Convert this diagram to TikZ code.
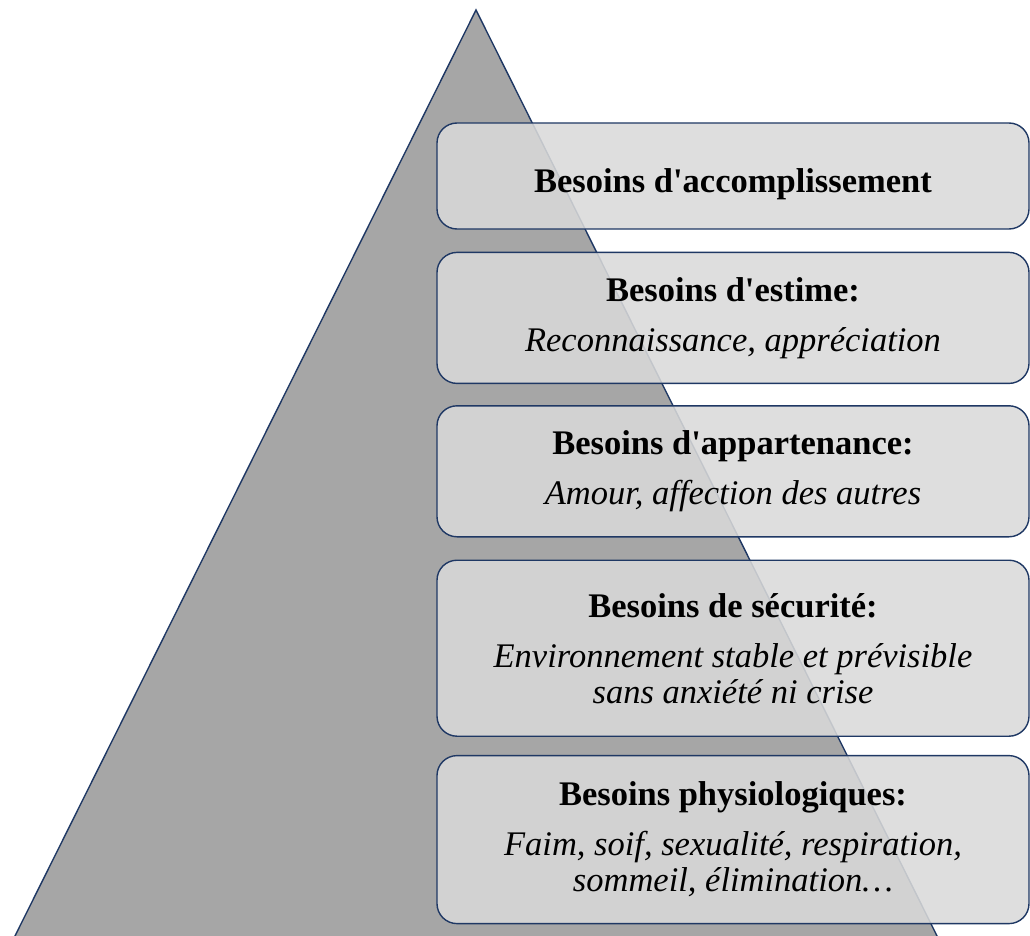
\documentclass[tikz,border=0pt]{standalone}
\usepackage{fontspec}
\setmainfont{Liberation Serif}[Ligatures=TeXOff]
\usepackage{xcolor}
\usetikzlibrary{positioning}
\definecolor{navy}{HTML}{1F3864}
\definecolor{pyrgray}{HTML}{A6A6A6}
\definecolor{boxgray}{HTML}{D9D9D9}

\begin{document}
\begin{tikzpicture}[x=1pt, y=-1pt,
    levelbox/.style={draw=navy, line width=1.4pt, rounded corners=20pt, fill=boxgray, fill opacity=0.88, text opacity=1,
        minimum width=592pt, align=center, inner sep=0pt, font=\fontsize{34.5}{36}\selectfont,
        execute at begin node={\rule{0pt}{41pt}}}]
    \useasboundingbox (0, 0) rectangle (1030, 936);
    \draw[navy, line width=1.4pt, fill=pyrgray] (476, 10) -- (10.5, 945) -- (941.5, 945) -- cycle;
    \node[levelbox, minimum height=106pt] (acc) at (733, 176) {\textbf{Besoins d'accomplissement}};
    \node[levelbox, minimum height=131pt, below=22pt of acc] (est) {\textbf{Besoins d'estime:}\\[14pt]\textit{Reconnaissance, appréciation}};
    \node[levelbox, minimum height=131pt, below=21pt of est] (app) {\textbf{Besoins d'appartenance:}\\[14pt]\textit{Amour, affection des autres}};
    \node[levelbox, minimum height=176pt, below=22pt of app] (sec) {\textbf{Besoins de sécurité:}\\[14pt]\textit{Environnement stable et prévisible}\\\textit{sans anxiété ni crise}};
    \node[levelbox, minimum height=168pt, below=18pt of sec] (phy) {\textbf{Besoins physiologiques:}\\[14pt]\textit{Faim, soif, sexualité, respiration,}\\\textit{sommeil, élimination\dots}};
\end{tikzpicture}
\end{document}
